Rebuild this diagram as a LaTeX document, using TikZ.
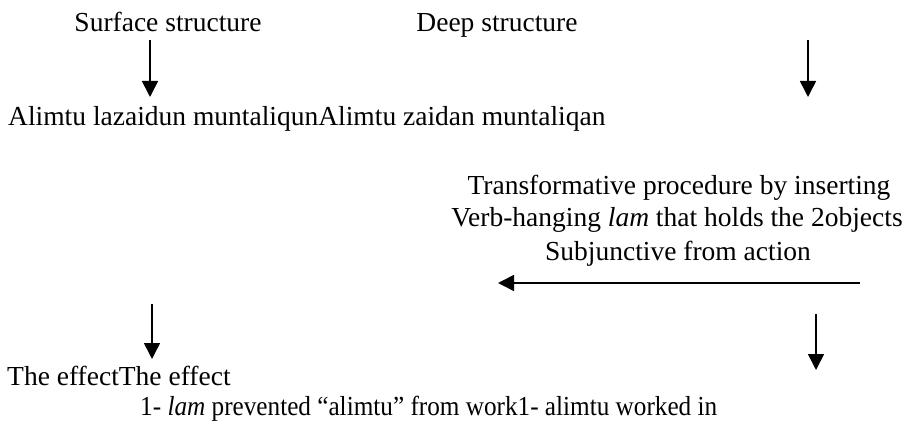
\documentclass[tikz,border=0pt]{standalone}
\usepackage{fontspec}
\setmainfont{Liberation Serif}
\usetikzlibrary{arrows.meta}
\tikzset{
  txt/.style={inner sep=0pt, font=\fontsize{27.5}{32}\selectfont},
  arr/.style={line width=1.6pt, -{Triangle[width=16pt,length=16pt]}}
}
\begin{document}
\begin{tikzpicture}[x=1pt,y=-1pt]
\useasboundingbox (0,0) rectangle (912,430);
\node[txt, anchor=base] (surf) at (168,32) {Surface structure};
\node[txt, anchor=base] (deep) at (497,32) {Deep structure};
\node[txt, anchor=base west] (alim) at (8,126) {Alimtu lazaidun muntaliqunAlimtu zaidan muntaliqan};
\node[txt, anchor=base] (tr1) at (679,195) {Transformative procedure by inserting};
\node[txt, anchor=base] (tr2) at (677,227) {Verb-hanging \textit{lam} that holds the 2objects};
\node[txt, anchor=base] (tr3) at (678,260) {Subjunctive from action};
\node[txt, anchor=base west] (eff) at (7,385) {The effectThe effect};
\node[txt, anchor=base west] (res) at (140,415) {\scalebox{0.917}[1]{1- \textit{lam} prevented “alimtu” from work1- alimtu worked in}};
\coordinate (a1s) at (150,40); \coordinate (a1e) at (150,97);
\coordinate (a2s) at (808,40); \coordinate (a2e) at (808,97);
\coordinate (a3s) at (152,304); \coordinate (a3e) at (152,359);
\coordinate (a4s) at (816,314); \coordinate (a4e) at (816,370);
\coordinate (hs) at (860,283); \coordinate (he) at (498,283);
\draw[arr] (a1s) -- (a1e);
\draw[arr] (a2s) -- (a2e);
\draw[arr] (a3s) -- (a3e);
\draw[arr] (a4s) -- (a4e);
\draw[arr] (hs) -- (he);
\end{tikzpicture}
\end{document}
